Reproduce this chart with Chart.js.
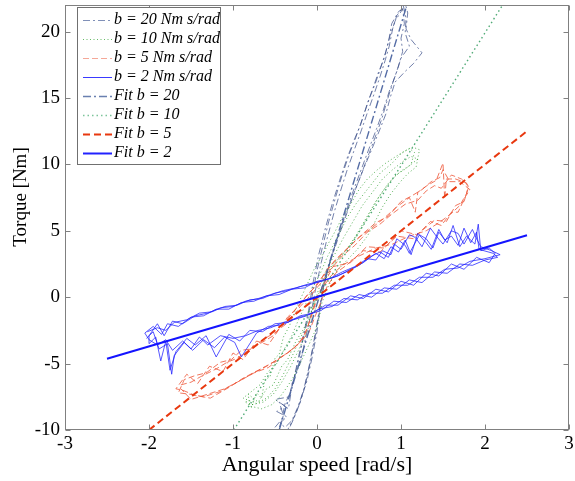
<!DOCTYPE html>
<html>
<head>
<meta charset="utf-8">
<script src="https://cdn.jsdelivr.net/npm/chart.js@4.4.1/dist/chart.umd.min.js"></script>
<style>
  html, body { margin: 0; padding: 0; background: #fff; }
  #c { display: block; }
</style>
</head>
<body>
<canvas id="c" width="575" height="481"></canvas>
<script>
// ---------- tick labels ----------
const xTicks = [-3, -2, -1, 0, 1, 2, 3];
const yTicks = [-10, -5, 0, 5, 10, 15, 20];

// ---------- labels ----------
const xTitle = 'Angular speed [rad/s]';
const yTitle = 'Torque [Nm]';
const seriesLabels = ['b = 20 Nm s/rad', 'b = 10 Nm s/rad', 'b = 5 Nm s/rad', 'b = 2 Nm s/rad',
                      'Fit b = 20', 'Fit b = 10', 'Fit b = 5', 'Fit b = 2'];

// ---------- measured data: [angular speed, torque] ----------
const b20Data = [
  [-0.5,-9.8],[-0.42,-9.2],[-0.38,-8.0],[-0.32,-7.2],[-0.27,-6.0],[-0.22,-4.5],[-0.16,-2.8],[-0.1,-1.0],[-0.05,1.0],[0.02,3.2],[0.1,5.2],[0.18,7.0],[0.27,8.8],[0.36,10.5],[0.44,11.8],[0.52,13.0],[0.6,14.6],[0.67,15.8],[0.73,16.9],[0.8,18.0],[0.85,19.2],[0.89,20.6],[0.97,21.5],[1.06,21.9],
  [1.08,21.4],[1.06,20.2],[1.12,19.4],[1.25,18.4],[1.15,17.6],[1.05,17.0],[0.93,16.2],[0.87,15.0],[0.82,13.8],[0.74,12.5],[0.65,11.1],[0.55,9.6],[0.45,8.0],[0.36,6.4],[0.26,4.6],[0.17,2.9],[0.09,1.2],[0.04,-0.6],[0.0,-2.6],[-0.06,-4.6],[-0.12,-6.3],[-0.2,-7.9],[-0.27,-9.0],[-0.35,-10.0],
  [-0.46,-10.0],[-0.4,-8.9],[-0.45,-7.9],[-0.34,-8.4],[-0.3,-6.8],[-0.24,-5.3],[-0.18,-3.6],[-0.12,-1.9],[-0.06,0.0],[0.0,2.0],[0.07,3.9],[0.14,5.7],[0.22,7.5],[0.3,9.2],[0.38,10.7],[0.46,12.0],[0.55,13.6],[0.62,14.9],[0.7,16.2],[0.76,17.3],[0.82,18.5],[0.87,19.7],[0.93,20.8],[1.02,21.7],
  [1.04,20.6],[1.0,19.5],[1.02,18.5],[0.97,17.4],[0.9,16.1],[0.84,14.9],[0.77,13.4],[0.69,12.0],[0.6,10.5],[0.5,8.8],[0.4,7.2],[0.3,5.5],[0.21,3.8],[0.13,2.1],[0.06,0.3],[0.01,-1.6],[-0.04,-3.4],[-0.1,-5.4],[-0.16,-7.0],[-0.23,-8.3],[-0.3,-9.3],[-0.38,-9.8],
  [-0.44,-9.5],[-0.36,-9.0],[-0.48,-8.6],[-0.38,-8.2],[-0.5,-7.7],[-0.33,-7.5],[-0.29,-6.3],[-0.2,-5.0],[-0.14,-3.2],[-0.08,-1.5],[-0.02,0.5],[0.05,2.6],[0.12,4.4],[0.2,6.3],[0.28,8.0],[0.36,9.6],[0.45,11.2],[0.53,12.6],[0.6,13.9],[0.68,15.3],[0.75,16.6],[0.81,17.8],[0.86,18.9],[0.9,20.2],[0.95,21.2],[1.03,21.9],
  [1.06,21.0],[1.05,19.9],[1.1,18.9],[1.0,18.0],[0.94,16.8],[0.86,15.5],[0.79,14.1],[0.71,12.7],[0.62,11.2],[0.52,9.5],[0.42,7.8],[0.32,6.0],[0.23,4.2],[0.15,2.6],[0.08,0.8],[0.03,-1.0],[-0.02,-2.9],[-0.08,-4.9],[-0.14,-6.6],[-0.21,-8.1],[-0.28,-9.2],[-0.34,-10.0]
];

const b10Data = [
  [-0.85,-7.9],[-0.78,-8.3],[-0.72,-7.2],[-0.66,-7.6],[-0.62,-6.2],[-0.56,-6.0],[-0.5,-4.6],[-0.45,-4.3],[-0.4,-3.0],[-0.33,-2.2],[-0.26,-1.0],[-0.18,0.1],[-0.1,1.2],[-0.02,2.3],[0.06,3.1],[0.14,4.1],[0.22,5.0],[0.3,6.0],[0.4,7.0],[0.5,8.1],[0.6,8.9],[0.72,9.6],[0.82,10.1],[0.94,10.6],[1.04,11.0],[1.14,11.3],[1.22,11.1],
  [1.18,9.8],[1.08,9.3],[0.98,8.6],[0.88,7.8],[0.78,6.8],[0.7,5.8],[0.6,4.6],[0.48,3.6],[0.36,2.8],[0.24,2.0],[0.14,0.9],[0.06,-0.4],[0.02,-1.8],[-0.04,-2.8],[-0.12,-3.9],[-0.2,-5.0],[-0.28,-6.0],[-0.36,-6.8],[-0.44,-7.5],[-0.54,-8.1],[-0.66,-8.4],[-0.8,-8.2],
  [-0.82,-7.3],[-0.7,-7.9],[-0.6,-6.9],[-0.52,-6.6],[-0.42,-5.2],[-0.35,-4.7],[-0.25,-3.3],[-0.16,-2.4],[-0.06,-1.0],[0.02,0.6],[0.1,1.9],[0.2,3.1],[0.3,4.3],[0.42,5.6],[0.54,6.9],[0.66,7.9],[0.78,8.9],[0.9,9.6],[1.02,10.2],[1.12,10.6],[1.2,10.4],
  [1.1,9.9],[1.0,9.5],[0.9,8.9],[0.8,8.1],[0.7,7.2],[0.58,5.9],[0.46,4.6],[0.34,3.5],[0.2,2.5],[0.08,1.1],[-0.02,-0.3],[-0.1,-1.8],[-0.2,-3.1],[-0.3,-4.5],[-0.4,-5.8],[-0.5,-6.9],[-0.6,-7.6],[-0.72,-8.0],
  [-0.88,-7.6],[-0.76,-7.0],[-0.68,-6.6],[-0.58,-5.6],[-0.48,-5.0],[-0.38,-3.8],[-0.3,-2.9],[-0.22,-1.7],[-0.14,-0.6],[-0.06,0.6],[0.04,1.8],[0.12,3.0],[0.2,4.0],[0.28,5.0],[0.36,6.0],[0.46,7.0],[0.56,7.8],[0.66,8.6],[0.76,9.4],[0.88,10.0],[1.0,10.8],[1.1,11.2],[1.16,10.9],
  [1.12,10.0],[1.04,9.6],[0.94,9.2],[0.84,8.5],[0.74,7.6],[0.64,6.5],[0.54,5.3],[0.42,4.1],[0.3,3.2],[0.18,2.4],[0.1,1.5],[0.04,0.2],[-0.04,-1.3],[-0.12,-2.6],[-0.22,-4.0],[-0.32,-5.3],[-0.42,-6.4],[-0.52,-7.3],[-0.64,-7.9],[-0.78,-8.1],[-0.86,-7.8]
];

const b5Data = [
  [-1.62,-6.6],[-1.5,-6.4],[-1.39,-6.0],[-1.2,-5.4],[-1.07,-4.9],[-0.95,-4.6],[-0.84,-4.1],[-0.68,-3.5],[-0.52,-2.9],[-0.4,-2.0],[-0.28,-1.1],[-0.15,-0.1],[-0.05,0.6],[0.1,1.8],[0.19,2.6],[0.35,3.6],[0.5,4.5],[0.65,5.2],[0.79,5.9],[0.95,6.8],[1.1,7.5],[1.17,6.4],[1.2,7.9],[1.31,8.4],[1.42,8.8],[1.5,10.1],[1.52,7.4],[1.54,8.9],[1.65,8.9],[1.78,8.6],
  [1.8,8.2],[1.75,7.2],[1.65,6.9],[1.54,5.7],[1.4,5.8],[1.19,4.7],[1.0,5.0],[0.8,3.7],[0.59,3.8],[0.4,2.6],[0.19,2.3],[0.1,1.2],[0.0,0.0],[-0.05,-1.0],[-0.12,-2.4],[-0.2,-3.4],[-0.35,-4.2],[-0.52,-4.9],[-0.7,-5.5],[-0.88,-6.1],[-1.05,-6.8],[-1.27,-7.6],[-1.45,-7.4],[-1.6,-7.0],
  [-1.68,-6.9],[-1.55,-5.8],[-1.42,-6.5],[-1.28,-5.2],[-1.12,-5.6],[-1.0,-4.2],[-0.88,-4.7],[-0.72,-3.3],[-0.58,-3.6],[-0.45,-2.4],[-0.32,-1.8],[-0.2,-0.7],[-0.08,0.1],[0.05,1.1],[0.15,2.0],[0.3,3.1],[0.45,3.9],[0.6,4.9],[0.75,5.5],[0.9,6.3],[1.05,7.0],[1.2,7.3],[1.3,8.0],[1.4,8.4],[1.48,8.2],[1.6,9.2],[1.72,8.9],[1.8,8.4],
  [1.78,7.8],[1.7,6.9],[1.58,6.2],[1.45,5.6],[1.3,5.0],[1.1,4.6],[0.9,4.0],[0.7,3.7],[0.5,3.1],[0.3,2.4],[0.15,1.5],[0.05,0.5],[-0.02,-0.5],[-0.08,-1.7],[-0.15,-2.9],[-0.28,-3.9],[-0.45,-4.6],[-0.6,-5.2],[-0.78,-5.8],[-0.95,-6.4],[-1.15,-7.1],[-1.35,-7.5],[-1.52,-7.3],[-1.65,-7.2],
  [-1.58,-6.2],[-1.45,-5.9],[-1.32,-5.7],[-1.15,-4.9],[-1.02,-4.7],[-0.9,-4.0],[-0.78,-3.9],[-0.62,-3.1],[-0.48,-2.6],[-0.35,-1.5],[-0.22,-0.7],[-0.1,0.3],[0.0,0.9],[0.12,2.1],[0.25,3.0],[0.4,3.9],[0.55,4.8],[0.7,5.6],[0.85,6.1],[1.0,7.2],[1.12,7.6],[1.25,8.1],[1.36,8.7],[1.46,9.0],[1.5,9.6],[1.58,8.7],[1.7,8.7],[1.82,8.1],
  [1.76,7.5],[1.68,6.4],[1.6,6.4],[1.48,5.4],[1.35,5.7],[1.15,4.4],[0.95,4.6],[0.75,3.4],[0.55,3.5],[0.35,2.4],[0.22,1.8],[0.12,0.8],[0.05,-0.3],[-0.02,-1.4],[-0.1,-2.7],[-0.25,-3.7],[-0.42,-4.5],[-0.58,-5.3],[-0.75,-5.7],[-0.92,-6.3],[-1.1,-6.9],[-1.3,-7.3],[-1.5,-7.7],[-1.62,-6.9]
];

const b2Data = [
  [-2.02,-2.6],[-1.9,-2.3],[-1.8,-2.5],[-1.7,-1.9],[-1.55,-1.7],[-1.4,-1.2],[-1.25,-1.1],[-1.1,-0.7],[-0.95,-0.6],[-0.8,-0.2],[-0.65,-0.1],[-0.5,0.3],[-0.35,0.5],[-0.2,0.8],[-0.05,1.0],[0.1,1.3],[0.25,1.6],[0.4,2.1],[0.55,2.6],[0.7,3.3],[0.8,2.9],[0.88,3.8],[0.97,3.4],[1.05,4.3],[1.12,3.2],[1.2,4.8],[1.3,4.1],[1.36,3.6],[1.45,5.1],[1.52,4.3],[1.6,4.6],[1.68,3.9],[1.75,5.2],[1.83,4.1],[1.9,4.9],[1.93,3.6],[2.1,3.3],
  [2.15,3.0],[2.0,2.8],[1.85,2.4],[1.7,2.5],[1.55,1.8],[1.4,1.9],[1.25,1.1],[1.1,1.3],[0.95,0.6],[0.8,0.7],[0.65,0.0],[0.5,0.2],[0.35,-0.4],[0.2,-0.3],[0.05,-1.0],[-0.1,-1.3],[-0.25,-1.6],[-0.4,-1.9],[-0.55,-2.3],[-0.7,-2.5],[-0.85,-2.9],[-1.0,-3.1],[-1.15,-2.9],[-1.3,-3.6],[-1.4,-3.0],[-1.5,-3.9],[-1.6,-3.3],[-1.72,-4.0],[-1.8,-3.2],[-1.9,-3.6],[-2.0,-3.2],[-2.05,-2.7],
  [-1.95,-2.2],[-1.85,-2.8],[-1.78,-2.0],[-1.65,-2.2],[-1.5,-1.5],[-1.35,-1.4],[-1.2,-0.9],[-1.05,-0.9],[-0.9,-0.4],[-0.75,-0.3],[-0.6,0.1],[-0.45,0.2],[-0.3,0.6],[-0.15,0.7],[0.0,1.2],[0.15,1.4],[0.3,1.9],[0.45,2.3],[0.6,2.9],[0.7,2.8],[0.78,3.5],[0.88,3.2],[0.95,4.4],[1.05,3.9],[1.1,3.3],[1.22,4.7],[1.3,4.4],[1.38,3.7],[1.45,4.9],[1.55,4.1],[1.62,5.4],[1.7,3.8],[1.78,4.6],[1.88,4.0],[1.92,5.5],[1.95,3.5],[2.05,3.7],
  [2.12,3.3],[2.05,2.6],[1.9,3.0],[1.75,2.1],[1.6,2.5],[1.45,1.6],[1.3,1.8],[1.15,0.9],[1.0,1.2],[0.85,0.4],[0.7,0.6],[0.55,-0.1],[0.4,0.1],[0.25,-0.6],[0.1,-0.6],[-0.05,-1.2],[-0.2,-1.4],[-0.35,-1.9],[-0.5,-2.0],[-0.65,-2.6],[-0.8,-2.5],[-0.92,-3.3],[-1.05,-2.8],[-1.2,-4.5],[-1.32,-2.9],[-1.45,-3.6],[-1.55,-3.1],[-1.68,-4.1],[-1.75,-5.5],[-1.8,-3.3],[-1.86,-4.8],[-1.92,-3.0],[-2.0,-3.5],
  [-2.0,-2.9],[-1.9,-2.0],[-1.82,-2.9],[-1.72,-1.8],[-1.6,-2.0],[-1.45,-1.4],[-1.3,-1.2],[-1.15,-0.8],[-1.0,-0.7],[-0.85,-0.3],[-0.7,-0.1],[-0.55,0.2],[-0.4,0.5],[-0.25,0.7],[-0.1,1.0],[0.05,1.2],[0.2,1.5],[0.35,1.9],[0.5,2.4],[0.65,3.1],[0.75,3.4],[0.85,3.0],[0.92,4.0],[1.0,3.6],[1.1,4.7],[1.17,4.5],[1.25,3.8],[1.35,5.2],[1.42,4.6],[1.5,4.0],[1.6,5.0],[1.68,4.8],[1.75,4.0],[1.85,5.1],[1.9,4.4],[1.95,3.8],[2.08,3.5],
  [2.18,3.2],[2.0,2.9],[1.82,2.7],[1.68,2.2],[1.52,2.1],[1.38,1.5],[1.22,1.5],[1.08,0.9],[0.92,0.9],[0.78,0.3],[0.62,0.3],[0.48,-0.2],[0.32,-0.1],[0.18,-0.7],[0.02,-0.9],[-0.12,-1.4],[-0.28,-1.7],[-0.42,-2.1],[-0.58,-2.2],[-0.72,-2.7],[-0.9,-4.5],[-0.98,-3.4],[-1.1,-3.0],[-1.22,-3.8],[-1.35,-3.2],[-1.48,-4.0],[-1.58,-3.4],[-1.7,-4.4],[-1.73,-5.8],[-1.78,-3.5],[-1.88,-3.9],[-1.95,-2.6],[-2.03,-3.1]
];

// ---------- fitted lines (end points) ----------
const fit20Data = [[-0.45,-10],[1.07,22]];
const fit10Data = [[-0.99,-10],[2.21,22]];
const fit5Data  = [[-2.0,-10],[2.5,12.5]];
const fit2Data  = [[-2.5,-4.64],[2.5,4.66]];

const toPts = arr => arr.map(p => ({x: p[0], y: p[1]}));

const styles = [
  {color:'rgba(55,75,135,0.7)',  width:1,   dash:[7,3,2,3], legendColor:'#8090b8'},
  {color:'rgba(30,150,30,0.75)', width:1,   dash:[1,2.5],   legendColor:'#66bb66'},
  {color:'rgba(238,85,55,0.8)',  width:1,   dash:[6,3],     legendColor:'#f5a898'},
  {color:'rgba(30,30,255,0.75)', width:1,   dash:[],        legendColor:'#3a3aff'},
  {color:'rgba(75,100,160,0.95)',width:1.4, dash:[8,3,2,3], legendColor:'#6a80b0'},
  {color:'rgba(70,165,110,0.95)',width:1.4, dash:[1.5,3],   legendColor:'#7cc49a'},
  {color:'#e8380f',              width:2,   dash:[7,4],     legendColor:'#e8380f'},
  {color:'#1414ff',              width:2,   dash:[],        legendColor:'#2222ff'}
];
const seriesData = [b20Data, b10Data, b5Data, b2Data, fit20Data, fit10Data, fit5Data, fit2Data];
const drawOrder = [7, 6, 5, 4, 3, 2, 1, 0];

const datasets = seriesData.map((d, i) => ({
  label: seriesLabels[i],
  data: toPts(d),
  showLine: true,
  fill: false,
  tension: 0,
  pointRadius: 0,
  pointHoverRadius: 0,
  borderColor: styles[i].color,
  borderWidth: styles[i].width,
  borderDash: styles[i].dash,
  order: drawOrder[i]
}));

const SERIF = '"Liberation Serif", "Times New Roman", serif';

const framePlugin = {
  id: 'frameLegend',
  afterDatasetsDraw(chart) {
    const {ctx, chartArea: a, scales} = chart;
    const L = Math.round(a.left) + 0.5, R = Math.round(a.right) - 0.5;
    const T = Math.round(a.top) + 0.5, B = Math.round(a.bottom) - 0.5;
    ctx.save();
    ctx.strokeStyle = '#808080';
    ctx.lineWidth = 1;
    ctx.setLineDash([]);
    ctx.strokeRect(L, T, R - L, B - T);
    ctx.beginPath();
    const tl = 5;
    xTicks.forEach(v => {
      const px = Math.round(scales.x.getPixelForValue(v)) + 0.5;
      ctx.moveTo(px, B); ctx.lineTo(px, B - tl);
      ctx.moveTo(px, T); ctx.lineTo(px, T + tl);
    });
    yTicks.forEach(v => {
      const py = Math.round(scales.y.getPixelForValue(v)) + 0.5;
      ctx.moveTo(L, py); ctx.lineTo(L + tl, py);
      ctx.moveTo(R, py); ctx.lineTo(R - tl, py);
    });
    ctx.stroke();

    // y axis title
    ctx.save();
    ctx.translate(21, 197);
    ctx.rotate(-Math.PI / 2);
    ctx.font = '19px ' + SERIF;
    ctx.fillStyle = '#000';
    ctx.textAlign = 'center';
    ctx.textBaseline = 'middle';
    ctx.fillText(yTitle, 0, 0);
    ctx.restore();

    // legend box
    const bx = 77.5, by = 7.5, bw = 143, bh = 157;
    ctx.fillStyle = '#fff';
    ctx.fillRect(bx, by, bw, bh);
    ctx.strokeStyle = '#707070';
    ctx.strokeRect(bx, by, bw, bh);
    ctx.font = 'italic 16px ' + SERIF;
    ctx.textBaseline = 'middle';
    ctx.textAlign = 'left';
    seriesLabels.forEach((lab, i) => {
      const yy = 20 + i * 19;
      const st = styles[i];
      ctx.save();
      ctx.strokeStyle = st.legendColor;
      ctx.lineWidth = st.width;
      ctx.setLineDash(st.dash);
      ctx.beginPath();
      ctx.moveTo(83, Math.round(yy) + 0.5);
      ctx.lineTo(112, Math.round(yy) + 0.5);
      ctx.stroke();
      ctx.restore();
      ctx.fillStyle = '#000';
      ctx.fillText(lab, 114, yy);
    });
    ctx.restore();
  }
};

new Chart(document.getElementById('c'), {
  type: 'scatter',
  data: { datasets },
  options: {
    responsive: false,
    devicePixelRatio: 1,
    animation: false,
    events: [],
    layout: { padding: { left: 0, right: 6, top: 5, bottom: 0 } },
    plugins: { legend: { display: false }, tooltip: { enabled: false } },
    scales: {
      x: {
        type: 'linear', min: -3, max: 3,
        afterBuildTicks: s => { s.ticks = xTicks.map(v => ({value: v})); },
        afterFit: s => { s.height = 51; s.paddingLeft = 0; s.paddingRight = 0; },
        grid: { display: false, drawTicks: false },
        border: { display: false },
        ticks: { font: { family: SERIF, size: 19 }, color: '#000', padding: 3, maxRotation: 0, autoSkip: false },
        title: { display: true, text: xTitle, font: { family: SERIF, size: 22 }, color: '#000', padding: { top: 0, bottom: 3 } }
      },
      y: {
        type: 'linear', min: -10, max: 22,
        afterBuildTicks: s => { s.ticks = yTicks.map(v => ({value: v})); },
        afterFit: s => { s.width = 65; s.paddingTop = 0; s.paddingBottom = 0; },
        grid: { display: false, drawTicks: false },
        border: { display: false },
        ticks: { font: { family: SERIF, size: 19 }, color: '#000', padding: 5, autoSkip: false },
        title: { display: false }
      }
    }
  },
  plugins: [framePlugin]
});
</script>
</body>
</html>
